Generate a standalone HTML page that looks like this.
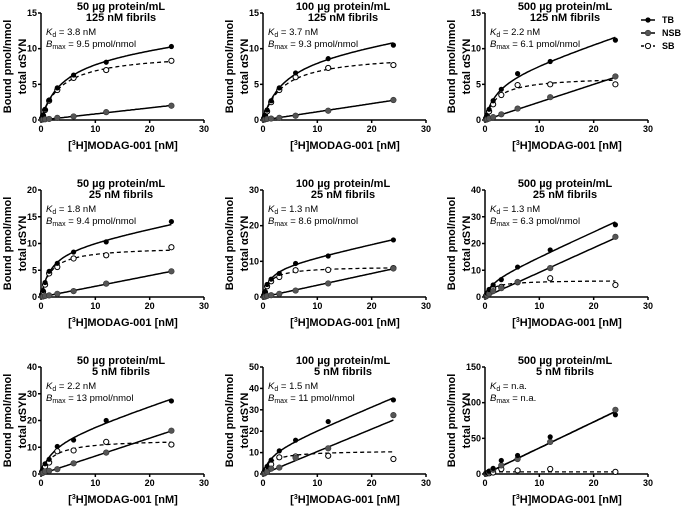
<!DOCTYPE html>
<html><head><meta charset="utf-8">
<style>
html,body{margin:0;padding:0;background:#fff;}
svg{display:block;font-family:"Liberation Sans",Arial,sans-serif;}
.t{font-weight:bold;font-size:11px;}
.tk{font-weight:bold;font-size:9px;}
.ax{font-weight:bold;font-size:11px;}
.par{font-size:9.5px;}
</style></head>
<body>
<svg id="chart" width="684" height="508" viewBox="0 0 684 508"></svg>
<script>
const concX = [0.19, 0.38, 0.75, 1.5, 3, 6, 12, 24];
const titles1 = ["50 µg protein/mL","100 µg protein/mL","500 µg protein/mL","50 µg protein/mL","100 µg protein/mL","500 µg protein/mL","50 µg protein/mL","100 µg protein/mL","500 µg protein/mL"];
const titles2 = ["125 nM fibrils","125 nM fibrils","125 nM fibrils","25 nM fibrils","25 nM fibrils","25 nM fibrils","5 nM fibrils","5 nM fibrils","5 nM fibrils"];
const kdLabels = ["3.8 nM","3.7 nM","2.2 nM","1.8 nM","1.3 nM","1.3 nM","2.2 nM","1.5 nM","n.a."];
const bmaxLabels = ["9.5 pmol/nmol","9.3 pmol/nmol","6.1 pmol/nmol","9.4 pmol/nmol","8.6 pmol/nmol","6.3 pmol/nmol","13 pmol/nmol","11 pmol/nmol","n.a."];
const yMaxes = [15,15,15,20,30,40,40,50,150];
const yStepsArr = [5,5,5,5,10,10,10,10,50];
const xTicks = [0,10,20,30];
const kdVals = [3.8,3.7,2.2,1.8,1.3,1.3,2.2,1.5,null];
const bmaxVals = [9.5,9.3,6.1,9.4,8.6,6.3,13,11,3];
const nsSlopes = [0.085,0.115,0.25,0.2,0.33,0.92,0.67,1.05,3.65];
const tbData = [
 [0.3,0.7,1.5,2.8,4.5,6.3,8.1,10.3],
 [0.3,0.7,1.4,2.7,4.5,6.6,8.6,10.5],
 [0.3,0.7,1.5,2.7,4.3,6.5,8.2,11.2],
 [0.5,1.2,2.7,4.8,6.3,8.4,10.3,14.1],
 [0.5,1.5,3.5,5.0,6.6,9.4,11.5,16],
 [0.5,1.5,2.8,4.5,6.5,11.2,17.6,27],
 [1,2,3.8,5.5,10.3,12.7,20,27.3],
 [0.8,2,3.5,6.5,10.8,15.8,24.5,34.6],
 [1,2,4,8,19,26,52,83]
];
const nsbData = [
 [0.05,0.1,0.1,0.15,0.3,0.5,1.1,2.0],
 [0.05,0.1,0.15,0.2,0.3,0.6,1.3,2.8],
 [0.05,0.1,0.2,0.4,0.8,1.6,3.2,6.1],
 [0.1,0.1,0.2,0.3,0.6,1.1,2.5,4.8],
 [0.05,0.1,0.3,0.5,0.9,1.8,3.8,8.0],
 [0.2,0.6,1.2,2.2,3.3,5.6,10.8,22.5],
 [0.3,0.5,1,1.2,1.8,4,8,16.2],
 [0.2,0.5,1,2.5,3,7.5,12,27.5],
 [0.5,1,3,6,12,21,45,90]
];
const sbData = [
 [0.2,0.6,1.4,2.7,4.2,5.9,7.0,8.3],
 [0.2,0.6,1.2,2.5,4.2,6.0,7.3,7.7],
 [0.2,0.5,1.2,2.2,3.5,4.9,5.0,5.0],
 [0.4,1.0,2.3,4.4,5.6,7.2,7.8,9.3],
 [0.4,1.3,3.0,4.4,5.6,7.5,7.6,8.1],
 [0.4,1.0,2.0,3.0,3.8,5.5,7.0,4.5],
 [0.7,1.5,2.8,4.3,8.5,8.8,12,11],
 [0.5,1.5,2.5,4.5,7.8,8.2,8.5,7],
 [0.5,1,1,2,7,5,7,3]
];

const NS="http://www.w3.org/2000/svg";
const svg=document.getElementById('chart');
const colX0=[41,263,485], rowTop=[13,190,367], rowBot=[120,297,474], plotW=163, xMax=30;
function mk(tag,attrs,parent){const e=document.createElementNS(NS,tag);for(const k in attrs)e.setAttribute(k,attrs[k]);(parent||svg).appendChild(e);return e;}
function txt(str,x,y,cls,anchor,parent){const e=mk('text',{x:x,y:y,class:cls,'text-anchor':anchor||'start'},parent);e.textContent=str;return e;}

for(let p=0;p<9;p++){
  const c=p%3,r=Math.floor(p/3);
  const x0=colX0[c],top=rowTop[r],bot=rowBot[r],yMax=yMaxes[p];
  const sx=v=>x0+v/xMax*plotW;
  const sy=v=>bot-v/yMax*(bot-top);
  const g=mk('g',{});
  
  
  const t1=txt(titles1[p],x0+80,top-3,'t','middle',g);
  
  
  const t2=txt(titles2[p],x0+80,top+8,'t','middle',g);
  
  
  const kd=mk('text',{x:x0+5,y:top+22,class:'par'},g);
  
  
  kd.innerHTML='<tspan font-style="italic">K</tspan><tspan font-size="7" dy="2">d</tspan><tspan dy="-2"> = '+kdLabels[p]+'</tspan>';
  const bm=mk('text',{x:x0+5,y:top+34,class:'par'},g);
  
  
  bm.innerHTML='<tspan font-style="italic">B</tspan><tspan font-size="7" dy="2">max</tspan><tspan dy="-2"> = '+bmaxLabels[p]+'</tspan>';
  const ya=mk('line',{x1:x0,y1:top,x2:x0,y2:bot,stroke:'#000','stroke-width':1.5},g);
  
  
  const xa=mk('line',{x1:x0,y1:bot,x2:x0+plotW,y2:bot,stroke:'#000','stroke-width':1.5},g);
  
  
  for(let v=0;v<=yMax+1e-9;v+=yStepsArr[p]){
    mk('line',{x1:x0-3,y1:sy(v),x2:x0,y2:sy(v),stroke:'#000','stroke-width':1.5},g);
    const l=txt(String(v),x0-4,sy(v)+3,'tk','end',g);
    
    
  }
  xTicks.forEach(v=>{
    mk('line',{x1:sx(v),y1:bot,x2:sx(v),y2:bot+3,stroke:'#000','stroke-width':1.5},g);
    const l=txt(String(v),sx(v),bot+12,'tk','middle',g);
    
    
  });
  const xl=mk('text',{x:x0+82,y:bot+29,class:'ax','text-anchor':'middle'},g);
  
  
  xl.innerHTML='[<tspan font-size="7" dy="-4">3</tspan><tspan dy="4">H]MODAG-001 [nM]</tspan>';
  const cy=(top+bot)/2;
  const y1=mk('text',{x:0,y:0,class:'ax','text-anchor':'middle',transform:'translate('+(x0-30)+','+cy+') rotate(-90)'},g);
  y1.textContent='Bound pmol/nmol';
  
  
  const y2=mk('text',{x:0,y:0,class:'ax','text-anchor':'middle',transform:'translate('+(x0-15)+','+cy+') rotate(-90)'},g);
  y2.textContent='total αSYN';
  
  
  const kdv=kdVals[p],bmx=bmaxVals[p],ns=nsSlopes[p];
  const sbF=x=>kdv===null?bmx:bmx*x/(kdv+x);
  let dTB='',dNS='',dSB='';
  for(let i=0;i<=120;i++){
    const x=24*i/120;
    const s=sbF(x);
    dTB+=(i?'L':'M')+sx(x).toFixed(1)+','+sy((kdv===null?0:s)+ns*x).toFixed(1);
    dNS+=(i?'L':'M')+sx(x).toFixed(1)+','+sy(ns*x).toFixed(1);
    dSB+=(i?'L':'M')+sx(x).toFixed(1)+','+sy(s).toFixed(1);
  }
  const cN=mk('path',{d:dNS,fill:'none',stroke:'#000','stroke-width':1.5},g);
  
  
  const cS=mk('path',{d:dSB,fill:'none',stroke:'#000','stroke-width':1.3,'stroke-dasharray':'4,3'},g);
  
  
  const cT=mk('path',{d:dTB,fill:'none',stroke:'#000','stroke-width':1.5},g);
  
  
  concX.forEach((x,i)=>{
    const a=mk('circle',{cx:sx(x),cy:sy(sbData[p][i]),r:2.6,fill:'#fff',stroke:'#000','stroke-width':1},g);
    
    
    const b=mk('circle',{cx:sx(x),cy:sy(nsbData[p][i]),r:2.8,fill:'#555',stroke:'#333','stroke-width':0.6},g);
    
    
    const d=mk('circle',{cx:sx(x),cy:sy(tbData[p][i]),r:2.6,fill:'#000'},g);
    
    
  });
}
const lg=mk('g',{});


[['TB',20],['NSB',33],['SB',46]].forEach(([n,y],i)=>{
  const e=mk('g',{},lg);
  
  
  mk('line',{x1:641,y1:y,x2:655,y2:y,stroke:'#000','stroke-width':1.5,'stroke-dasharray':i==2?'3,3':'none'},e);
  if(i==0)mk('circle',{cx:648,cy:y,r:2.6,fill:'#000'},e);
  if(i==1)mk('circle',{cx:648,cy:y,r:2.8,fill:'#555',stroke:'#333','stroke-width':0.6},e);
  if(i==2)mk('circle',{cx:648,cy:y,r:2.6,fill:'#fff',stroke:'#000','stroke-width':1},e);
  txt(n,662,y+3,'tk','start',e).setAttribute('font-weight','normal');
});
</script>
</body></html>
